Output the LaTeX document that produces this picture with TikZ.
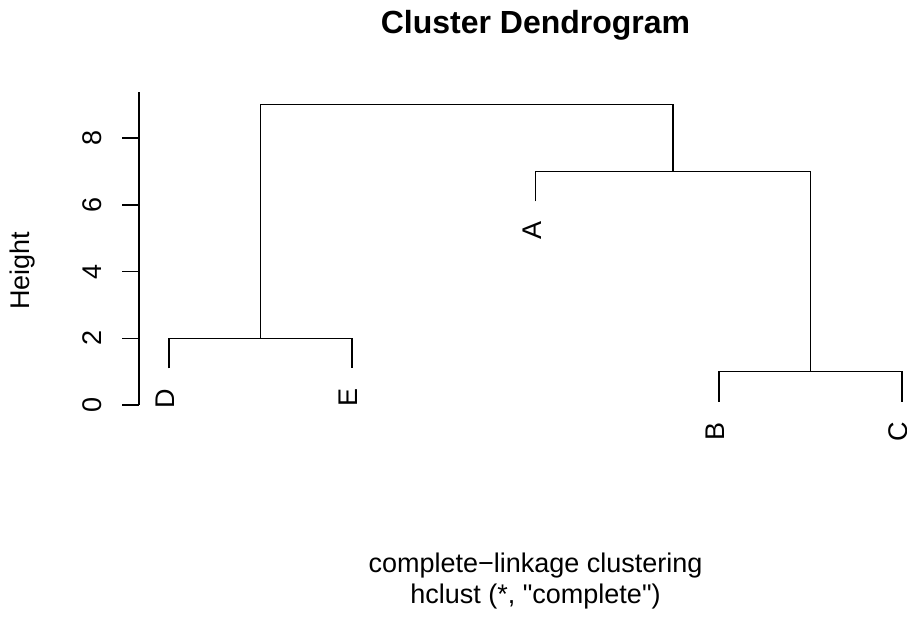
\documentclass[tikz,border=0pt]{standalone}
\usepackage{fontspec}
\setmainfont{Liberation Sans}[Ligatures=TeXOff]

\begin{document}
\begin{tikzpicture}[
    x=91.625pt, y=16.69pt,
    link/.style={line width=0.75pt},
    txt/.style={inner sep=0pt, font=\fontsize{13.5}{16}\selectfont},
    leaf/.style={txt, rotate=90, anchor=east},
    ticklab/.style={txt, rotate=90},
    title/.style={inner sep=0pt, anchor=base, font=\fontsize{16}{19}\selectfont\bfseries}
]
\useasboundingbox (-0.9222,-6.412) rectangle (4.0273,12.135);

% Title
\node[title] (main) at (2.0,11.146) {Cluster Dendrogram};

% Axis
\draw[link] (-0.1637,0) -- (-0.1637,9.378);
\foreach \h in {0,2,4,6,8} {
  \draw[link] (-0.1637,\h) -- (-0.2565,\h);
  \node[ticklab] (tick\h) at (-0.42,\h) {\h};
}
\node[txt, rotate=90] (ylab) at (-0.80,4.03) {Height};

% Leaf ends
\coordinate (D) at (0,1.1);
\coordinate (E) at (1,1.1);
\coordinate (A) at (2,6.1);
\coordinate (B) at (3,0.1);
\coordinate (C) at (4,0.1);

% Merge points
\coordinate (de) at (0.5,2);
\coordinate (bc) at (3.5,1);
\coordinate (abc) at (2.75,7);
\coordinate (root) at (1.625,9);

% Links
\draw[link] (D) |- (de) -| (E);
\draw[link] (B) |- (bc) -| (C);
\draw[link] (A) |- (abc) -| (bc);
\draw[link] (de) |- (root) -| (abc);

% Leaf labels
\node[leaf] (labD) at (-0.02,0.5) {D};
\node[leaf] (labE) at (0.98,0.5) {E};
\node[leaf] (labA) at (1.98,5.5) {A};
\node[leaf] (labB) at (2.98,-0.5) {B};
\node[leaf] (labC) at (3.98,-0.5) {C};

% Sub title
\node[txt, anchor=base] (method) at (2.0,-5.004) {complete−linkage clustering};
\node[txt, anchor=base] (call) at (2.0,-5.933) {hclust (*, "complete")};

\end{tikzpicture}
\end{document}
